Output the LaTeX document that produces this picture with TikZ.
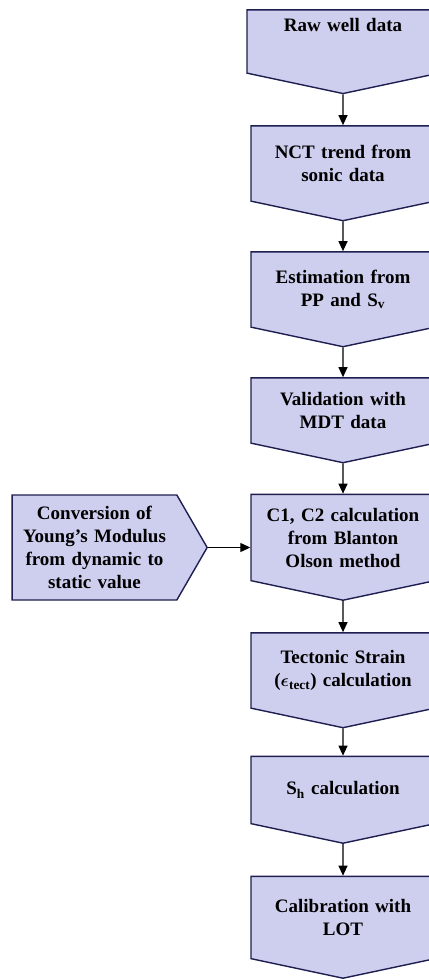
\documentclass[tikz,border=0pt]{standalone}
\usepackage{amsmath}
\usepackage{amssymb}
\usepackage{fontspec}
\setmainfont{Liberation Serif}
\usetikzlibrary{shapes.symbols,arrows.meta}

\definecolor{boxfill}{RGB}{206,206,238}
\definecolor{boxline}{RGB}{30,30,80}

\begin{document}
\begin{tikzpicture}[x=1pt, y=-1pt, >={Triangle[width=9pt,length=10pt]},
    stepbox/.style={signal, signal to=south, signal pointer angle=156,
      draw=boxline, line width=1.4pt, fill=boxfill, align=center,
      text width=168pt, minimum width=184pt, minimum height=94pt, inner sep=4pt,
      font=\bfseries\fontsize{19}{23}\selectfont},
    sidebox/.style={stepbox, signal to=east, signal pointer angle=120,
      text width=150pt, minimum width=195pt, minimum height=105pt}]

      \useasboundingbox (0, 0) rectangle (428, 979);

      \node[stepbox, minimum width=192pt, minimum height=82pt] (raw) at (343, 41.5) {Raw well data\\[10pt]\mbox{}};
      \node[stepbox] (nct) at (343, 163.5) {NCT trend from\\sonic data};
      \node[stepbox] (est) at (343, 289.5) {Estimation from\\PP and S\textsubscript{v}};
      \node[stepbox, minimum height=84pt] (val) at (343, 410.5) {Validation with\\MDT data};
      \node[stepbox, minimum height=105pt] (blo) at (343, 537.5) {C1, C2 calculation\\from Blanton\\Olson method};
      \node[stepbox] (tec) at (343, 670.5) {Tectonic Strain\\($\boldsymbol{\epsilon}$\textsubscript{tect}) calculation};
      \node[stepbox, minimum height=86pt] (shc) at (343, 790) {S\textsubscript{h} calculation};
      \node[stepbox, minimum height=101pt] (lot) at (343, 917.5) {Calibration with\\LOT};

      \node[sidebox] (ymd) at (94.5, 547.5) {Conversion of\\Young's Modulus\\from dynamic to\\static value};

      \path[->, line width=1.2pt]
      (raw) edge (nct)
      (nct) edge (est)
      (est) edge (val)
      (val) edge (blo)
      (blo) edge (tec)
      (tec) edge (shc)
      (shc) edge (lot)

      (ymd.east) edge (ymd.east -| blo.west);
    \end{tikzpicture}
\end{document}
